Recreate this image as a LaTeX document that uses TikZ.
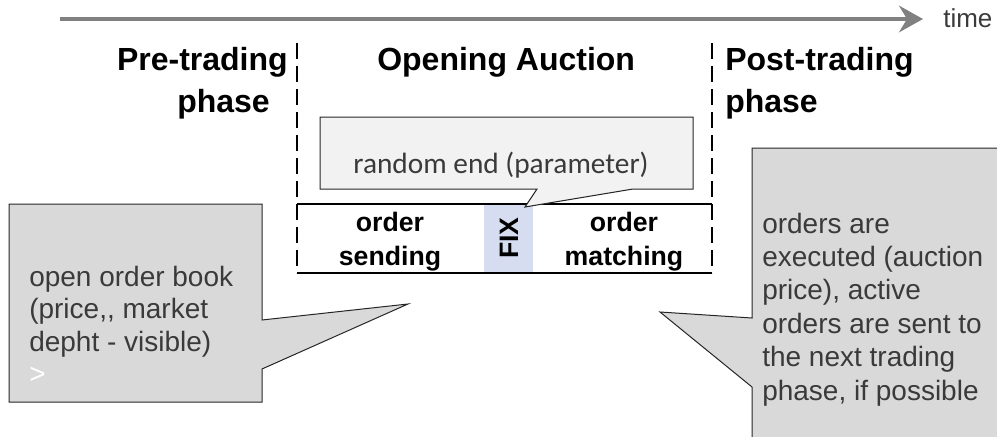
\documentclass[tikz,border=0pt]{standalone}
\usepackage{fontspec}
\setmainfont{Liberation Sans}
\newfontfamily\califont{Carlito}
\usetikzlibrary{arrows.meta}
\definecolor{callgray}{HTML}{D9D9D9}
\definecolor{calllight}{HTML}{F2F2F2}
\definecolor{fixblue}{HTML}{D7DDF0}
\definecolor{timegray}{HTML}{808080}
\definecolor{txtgray}{HTML}{3A3A3A}
\tikzset{
  header/.style={font=\fontsize{24}{28}\selectfont\bfseries, inner sep=0, text=black},
  sub/.style={font=\fontsize{20}{24}\selectfont\bfseries, inner sep=0, text=black},
  calltext/.style={font=\fontsize{21}{25}\selectfont, inner sep=0, text=txtgray, anchor=base west},
  callout/.style={draw=black!85, line width=0.75pt, line join=miter},
  phaseline/.style={line width=1.9pt, dash pattern=on 12pt off 5.25pt},
  boxline/.style={line width=1.4pt}
}
\begin{document}
\begin{tikzpicture}[x=0.75pt,y=-0.75pt]
\useasboundingbox (0,0) rectangle (997,436);
% time arrow
\coordinate (ts) at (60,19);
\coordinate (te) at (923,19);
\draw[timegray, line width=2.6pt, -{Stealth[length=18pt,width=20pt,inset=6pt]}] (ts) -- (te);
\node[font=\fontsize{19.5}{22}\selectfont, text=txtgray, inner sep=0, anchor=base west] (time) at (943,27) {time};
% headers
\node[header, anchor=base east] (pre1) at (288,70.5) {Pre-trading};
\node[header, anchor=base east] (pre2) at (270,112) {phase};
\node[header, anchor=base west] (open) at (377,70.5) {Opening Auction};
\node[header, anchor=base west] (post1) at (725,70.5) {Post-trading};
\node[header, anchor=base west] (post2) at (725,112) {phase};
% FIX band
\fill[fixblue] (484,205) rectangle (533,272);
\node[sub, rotate=90] (fix) at (509,238) {FIX};
% box
\coordinate (ltop) at (297,43);
\coordinate (lbot) at (297,273);
\coordinate (rtop) at (712,43);
\coordinate (rbot) at (712,273);
\coordinate (lmid) at (297,204);
\coordinate (rmid) at (712,204);
\draw[phaseline] (ltop) -- (lbot);
\draw[phaseline] (rtop) -- (rbot);
\draw[boxline] (lmid) -- (rmid);
\draw[boxline] (lbot) -- (rbot);
\node[sub, anchor=base] (os1) at (390,231.5) {order};
\node[sub, anchor=base] (os2) at (390,265) {sending};
\node[sub, anchor=base] (om1) at (624,231.5) {order};
\node[sub, anchor=base] (om2) at (624,265) {matching};
% random end callout
\draw[callout, fill=calllight] (320,117) -- (693,117) -- (693,189) -- (633,189) -- (525,207) -- (537,189) -- (320,189) -- cycle;
\node[font=\fontsize{22}{26}\selectfont\califont, text=txtgray, inner sep=0, anchor=base] (rnd) at (501,173) {random end (parameter)};
% left callout
\draw[callout, fill=callgray] (9,204) -- (262,204) -- (262,320) -- (408,304) -- (262,369) -- (262,402) -- (9,402) -- cycle;
\node[calltext] (la) at (29,286) {open order book};
\node[calltext] (lb) at (29,318.5) {(price,{},{} market};
\node[calltext] (lc) at (29,351) {depht - visible)};
\node[calltext, text=white] (ld) at (29,383) {>};
% right callout
\begin{scope}
\clip (0,0) rectangle (997,436);
\draw[callout, fill=callgray] (752,148) -- (1010,148) -- (1010,450) -- (752,450) -- (752,387) -- (660,312) -- (752,318) -- cycle;
\end{scope}
\node[calltext] (ra) at (762,233) {orders are};
\node[calltext] (rb) at (762,266.4) {executed (auction};
\node[calltext] (rc) at (762,299.8) {price), active};
\node[calltext] (rd) at (762,333.2) {orders are sent to};
\node[calltext] (re) at (762,366.6) {the next trading};
\node[calltext] (rf) at (762,400) {phase, if possible};
\end{tikzpicture}
\end{document}
